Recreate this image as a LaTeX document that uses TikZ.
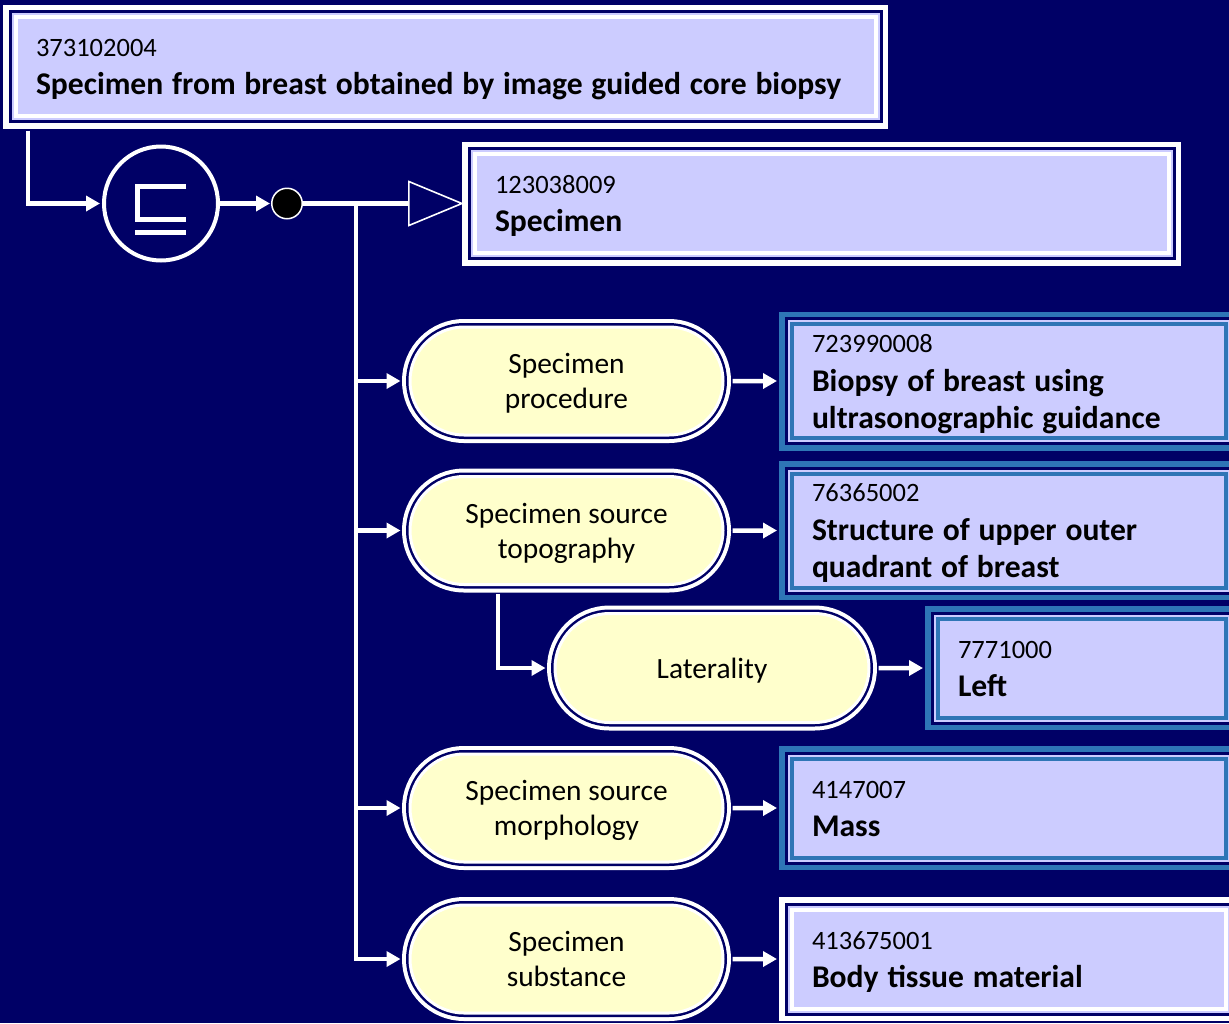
\documentclass[tikz,border=0pt]{standalone}
\usepackage{fontspec}
\setmainfont{Carlito}
\usetikzlibrary{shapes.misc,arrows.meta}

\definecolor{navybg}{HTML}{000066}
\definecolor{lav}{HTML}{CCCCFF}
\definecolor{paleyel}{HTML}{FFFFCC}
\definecolor{steel}{HTML}{2E75B6}

\newcommand\codefont{\fontsize{26.5}{37}\selectfont}
\newcommand\termfont{\fontsize{31.6}{38}\selectfont\bfseries}
\newcommand\pillfont{\fontsize{29.4}{35}\selectfont}
% fixed struts so every text block sits at the same place in its frame
\newcommand\boxtop{\rule{0pt}{28pt}}
\newcommand\boxbot{\rule[-10pt]{0pt}{10pt}}
\newcommand\pilltop{\rule{0pt}{27pt}}
\newcommand\pillbot{\rule[-7pt]{0pt}{7pt}}

\tikzset{
  % concept box: lavender panel inside a layered frame of colour #1
  framed/.style={rectangle, inner xsep=20.5pt, inner ysep=0pt,
    minimum height=99pt, align=left, text=black, font=\codefont,
    fill=lav, draw=#1, line width=4pt,
    preaction={draw=#1, line width=25pt},
    preaction={draw=navybg, line width=14pt},
    preaction={draw=lav, line width=8pt}},
  % attribute pill
  pill/.style={rounded rectangle, minimum width=313pt, minimum height=108pt,
    inner sep=0pt, align=center, text=black, font=\pillfont,
    fill=paleyel, draw=white, line width=3pt,
    preaction={draw=white, line width=16pt},
    preaction={draw=navybg, line width=8pt}},
  conn/.style={draw=white, line width=4.5pt},
  arr/.style={-{Triangle[length=14pt,width=15pt]}},
}

\begin{document}
\begin{tikzpicture}[x=1pt,y=-1pt]
\useasboundingbox (0,0) rectangle (1229,1023);
\fill[navybg] (0,0) rectangle (1229,1023);

% concepts
\node[framed=white, text width=819pt] (top) at (445.5,66.5)
  {\boxtop 373102004\\[1pt]\termfont Specimen from breast obtained by image guided core biopsy\boxbot};
\node[framed=white, text width=653pt] (spec) at (821.5,203.5)
  {\boxtop 123038009\\[1pt]\termfont Specimen\boxbot};
\node[framed=steel, text width=393pt] (b1) at (1008.5,381)
  {\boxtop 723990008\\[1pt]\termfont Biopsy of breast using\\ultrasonographic guidance\boxbot};
\node[framed=steel, text width=393pt] (b2) at (1008.5,530.5)
  {\boxtop 76365002\\[1pt]\termfont Structure of upper outer\\quadrant of breast\boxbot};
\node[framed=steel, text width=247pt] (b3) at (1081.5,668)
  {\boxtop 7771000\\[1pt]\termfont Left\boxbot};
\node[framed=steel, text width=393pt] (b4) at (1008.5,808)
  {\boxtop 4147007\\[1pt]\termfont Mass\boxbot};
\node[framed=white, text width=393pt] (b5) at (1008.5,959)
  {\boxtop 413675001\\[1pt]\termfont Body tissue material\boxbot};

% attributes
\node[pill] (p1) at (566.5,381) {\pilltop Specimen\\procedure\pillbot};
\node[pill] (p2) at (566.5,530.5) {\pilltop Specimen source\\topography\pillbot};
\node[pill, minimum width=314pt, minimum height=109pt] (p3) at (712,668) {\pilltop Laterality\pillbot};
\node[pill] (p4) at (566.5,808) {\pilltop Specimen source\\morphology\pillbot};
\node[pill] (p5) at (566.5,959) {\pilltop Specimen\\substance\pillbot};

% subsumption operator and conjunction dot
\node[circle, draw=white, line width=4pt, fill=navybg, minimum size=114pt, inner sep=0pt] (subs) at (161,203.5) {};
\draw[white, line width=5pt, line join=miter]
  ([shift={(25,-17)}]subs.center) -| ([shift={(-23.5,16)}]subs.center) -- ([shift={(25,16)}]subs.center);
\draw[white, line width=5pt] ([shift={(-26,28.5)}]subs.center) -- ([shift={(25,28.5)}]subs.center);
\node[circle, draw=white, line width=1.5pt, fill=black, minimum size=30.5pt, inner sep=0pt] (dot) at (287,203.5) {};
\coordinate (fork) at (356,203.5);

% connectors
\draw[conn, arr, shorten <=12.5pt, shorten >=2pt] ([xshift=14.5pt]top.south west) |- (subs);
\draw[conn, arr, shorten >=1pt] (subs) -- (dot);
\draw[conn, -{Triangle[open, length=56pt, width=46pt, line width=1.6pt]}, shorten >=8.5pt] (dot) -- (spec);
\draw[conn, arr, shorten >=8pt] (fork) |- (p5);
\draw[conn, arr, shorten >=8pt] (fork |- p1) -- (p1);
\draw[conn, arr, shorten >=8pt] (fork |- p2) -- (p2);
\draw[conn, arr, shorten >=8pt] (fork |- p4) -- (p4);
\draw[conn, arr, shorten <=8pt, shorten >=8pt] ([xshift=-68.5pt]p2.south) |- (p3);
\draw[conn, arr, shorten <=8pt, shorten >=12.5pt] (p1) -- (b1);
\draw[conn, arr, shorten <=8pt, shorten >=12.5pt] (p2) -- (b2);
\draw[conn, arr, shorten <=8pt, shorten >=12.5pt] (p3) -- (b3);
\draw[conn, arr, shorten <=8pt, shorten >=12.5pt] (p4) -- (b4);
\draw[conn, arr, shorten <=8pt, shorten >=12.5pt] (p5) -- (b5);
\end{tikzpicture}
\end{document}
